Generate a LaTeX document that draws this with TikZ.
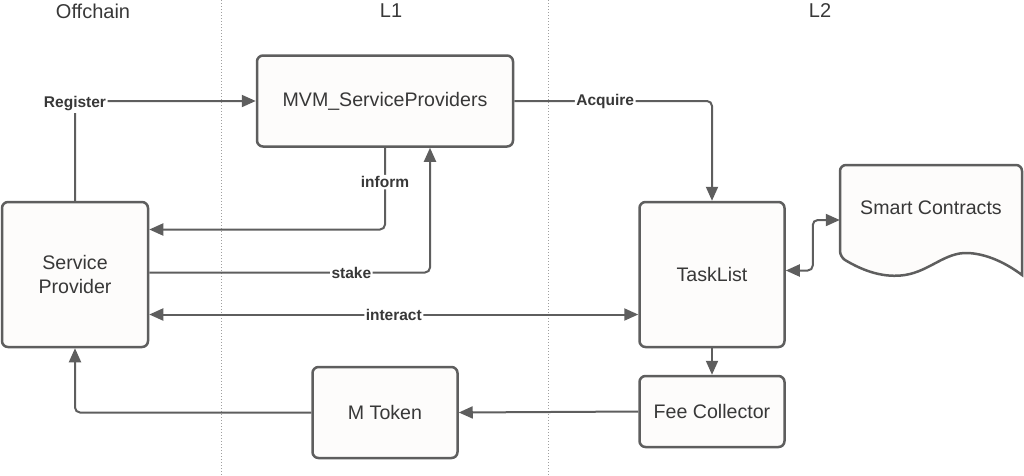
\documentclass[tikz,border=0pt]{standalone}
\usepackage{fontspec}
\setmainfont{Liberation Sans}
\usetikzlibrary{arrows.meta}
\definecolor{edge}{HTML}{5E5E5E}
\definecolor{ink}{HTML}{383838}
\definecolor{paper}{HTML}{FDFCFB}

\begin{document}
\begin{tikzpicture}[x=1pt, y=-1pt,
  box/.style={draw=edge, line width=2.5pt, fill=paper, rounded corners=6pt, text=ink,
    font=\fontsize{19.6}{23.5}\selectfont, align=center, inner sep=0pt},
  lbl/.style={fill=white, text=ink, font=\fontsize{15.5}{18}\selectfont\bfseries, inner sep=1.5pt},
  con/.style={draw=edge, line width=2pt, rounded corners=5pt},
  tip/.style={-{Triangle[length=14pt, width=12pt]}},
  tips/.style={{Triangle[length=14pt, width=12pt]}-{Triangle[length=14pt, width=12pt]}},
  lane/.style={draw=gray!75, dotted, line width=1pt},
  head/.style={text=ink, font=\fontsize{20}{24}\selectfont}]
\useasboundingbox (0, 0) rectangle (1024, 475);
\draw[lane] (221, 0) -- (221, 475);
\draw[lane] (548, 0) -- (548, 475);
\node(offchain) at (93, 11) [head] {Offchain};
\node(lone) at (391, 11) [head] {L1};
\node(ltwo) at (820, 11) [head] {L2};
\node(mvm) at (385, 101) [box, minimum width=256, minimum height=91] {MVM\_ServiceProviders};
\node(sp) at (75, 274.5) [box, minimum width=146, minimum height=145] {Service\\Provider};
\node(tl) at (712, 274.5) [box, minimum width=145, minimum height=145] {TaskList};
\node(fc) at (712, 411.5) [box, minimum width=145, minimum height=71] {Fee Collector};
\node(mt) at (385, 412.5) [box, minimum width=145, minimum height=91] {M Token};
\node(sc) at (931, 220) [minimum width=182, minimum height=110, inner sep=0pt] {};
\draw[draw=edge, line width=2.5pt, fill=paper] (840, 257) .. controls (865, 272) and (885, 278) .. (905, 275)
  .. controls (930, 271) and (945, 252) .. (968, 253) .. controls (990, 254) and (1010, 266) .. (1022, 275)
  [rounded corners=6pt] -- (1022, 165) -- (840, 165) -- cycle;
\node(sct) at (931, 208) [text=ink, font=\fontsize{19.6}{23.5}\selectfont] {Smart Contracts};
\draw[con, tip] (sp.north) |- node[lbl, yshift=-3] {Register} (mvm.west);
\draw[con, tip] (mvm.east) -| node[lbl, pos=0.23] {Acquire} (tl.north);
\draw[con, tip] (mvm.south) |- node[lbl, pos=0.21] {inform} ([yshift=45]sp.east);
\draw[con, tip] ([yshift=2]sp.east) -| node[lbl, pos=0.36] {stake} ([xshift=45]mvm.south);
\draw[con, tips] ([yshift=-40]sp.east) -- node[lbl] {interact} ([yshift=-40]tl.east -| tl.west);
\draw[con, tips] ([yshift=4]tl.east) -- ++(27, 0) |- (sc.west);
\draw[con, tip] (tl.south) -- (fc.north);
\draw[con, tip] (fc.west) -- (mt.east);
\draw[con, tip] (mt.west) -| (sp.south);
\end{tikzpicture}
\end{document}
